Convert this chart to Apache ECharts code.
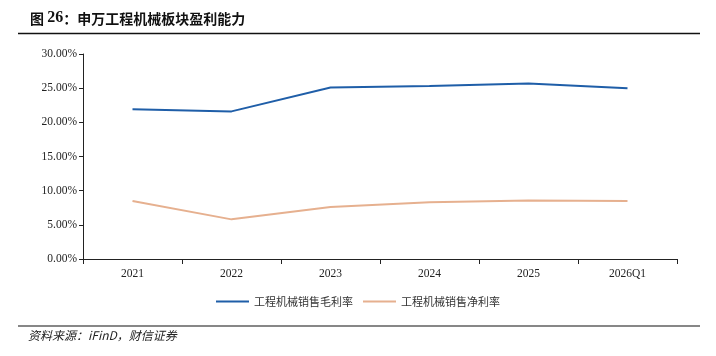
<!DOCTYPE html>
<html>
<head>
<meta charset="utf-8">
<script src="https://cdn.jsdelivr.net/npm/echarts@6/dist/echarts.min.js"></script>
<style>
  html, body { margin: 0; padding: 0; background: #fff; }
  #chart { width: 716px; height: 356px; }
</style>
</head>
<body>
<div id="chart"></div>
<script>
// 数据
const categories = ["2021", "2022", "2023", "2024", "2025", "2026Q1"];
const grossMargin = [21.9, 21.6, 25.1, 25.3, 25.7, 25.0];
const netMargin = [8.5, 5.8, 7.6, 8.3, 8.55, 8.5];
const seriesNames = ["工程机械销售毛利率", "工程机械销售净利率"];

const serif = "'Liberation Serif', 'DejaVu Serif', serif";
const cjk = "'Noto Sans CJK SC', sans-serif";

const mychart = echarts.init(document.getElementById("chart"));
const option = {
  animation: false,
  backgroundColor: "#fff",
  grid: { left: 83, right: 39, top: 54, bottom: 97 },
  legend: {
    data: seriesNames,
    bottom: 44,
    left: "center",
    itemWidth: 33,
    itemHeight: 2,
    itemGap: 10,
    icon: "rect",
    textStyle: { fontFamily: cjk, fontSize: 11, color: "#333" },
  },
  xAxis: {
    type: "category",
    data: categories,
    boundaryGap: true,
    axisLine: { lineStyle: { color: "#222", width: 1 } },
    axisTick: { show: true, alignWithLabel: false, length: 5, lineStyle: { color: "#222" } },
    axisLabel: { fontFamily: serif, fontSize: 11.5, color: "#222", margin: 9 },
  },
  yAxis: {
    type: "value",
    min: 0,
    max: 30,
    interval: 5,
    splitLine: { show: false },
    axisLine: { show: true, lineStyle: { color: "#222", width: 1 } },
    axisTick: { show: true, length: 4, lineStyle: { color: "#222" } },
    axisLabel: {
      fontFamily: serif,
      fontSize: 11.5,
      color: "#222",
      margin: 6,
      formatter: (v) => v.toFixed(2) + "%",
    },
  },
  series: [
    {
      name: seriesNames[0],
      type: "line",
      data: grossMargin,
      symbol: "none",
      lineStyle: { color: "#1f5ea8", width: 2 },
      itemStyle: { color: "#1f5ea8" },
    },
    {
      name: seriesNames[1],
      type: "line",
      data: netMargin,
      symbol: "none",
      lineStyle: { color: "#e6b08f", width: 2 },
      itemStyle: { color: "#e6b08f" },
    },
  ],
  graphic: [
    {
      type: "text",
      left: 30,
      top: 10,
      style: {
        text: "{a|图 }{b|26}{a|：申万工程机械板块盈利能力}",
        rich: {
          a: { fontFamily: cjk, fontWeight: "bold", fontSize: 14, fill: "#111", lineHeight: 18, verticalAlign: "bottom" },
          b: { fontFamily: serif, fontWeight: "bold", fontSize: 16, fill: "#111", lineHeight: 18, verticalAlign: "bottom" },
        },
      },
    },
    {
      type: "line",
      shape: { x1: 18, y1: 33.5, x2: 700, y2: 33.5 },
      style: { stroke: "#111", lineWidth: 1.3 },
    },
    {
      type: "line",
      shape: { x1: 18, y1: 326, x2: 700, y2: 326 },
      style: { stroke: "#111", lineWidth: 1.2 },
    },
    {
      type: "text",
      left: 28,
      top: 329,
      style: {
        text: "资料来源：iFinD，财信证券",
        font: "italic 12px " + cjk,
        fill: "#222",
      },
    },
  ],
};
mychart.setOption(option);
</script>
</body>
</html>
